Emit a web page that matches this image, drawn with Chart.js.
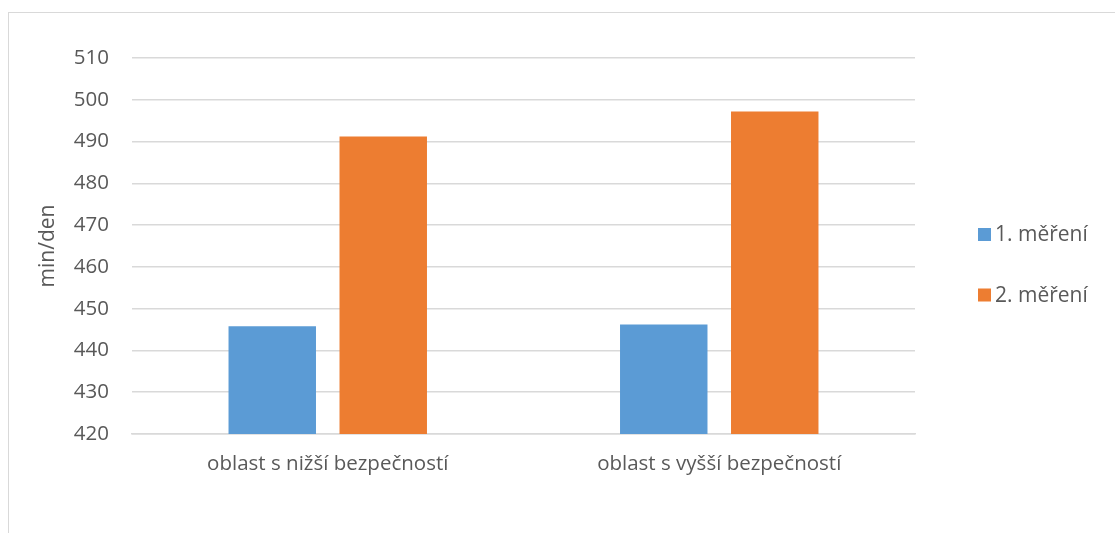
<!DOCTYPE html>
<html lang="cs">
<head>
<meta charset="utf-8">
<title>Čas strávený za den</title>
<script src="https://cdn.jsdelivr.net/npm/chart.js@4.4.1/dist/chart.umd.min.js"></script>
<style>
  html, body { margin: 0; padding: 0; background: #ffffff; }
  #wrap { position: relative; width: 1115px; height: 533px; overflow: hidden; }
  #frame { position: absolute; left: 8px; top: 12px; width: 1200px; height: 600px;
           border: 1.5px solid #d9d9d9; box-sizing: border-box; pointer-events: none; }
  canvas { position: absolute; left: 0; top: 0; }
</style>
</head>
<body>
<div id="wrap">
  <div id="frame"></div>
  <canvas id="chart" width="1115" height="533"></canvas>
</div>
<script>
// Categories, series and axis range
const categories = ['oblast s nižší bezpečností', 'oblast s vyšší bezpečností'];
const seriesNames = ['1. měření', '2. měření'];
const mereni1 = [445.8, 446.2];
const mereni2 = [491.2, 497.2];
const yMin = 420;
const yMax = 510;
const yStep = 10;
const yTitle = 'min/den';

const TEXT = '#595959';
const GRID = '#d9d9d9';
const FONT = "'Open Sans', 'DejaVu Sans', sans-serif";

// Legend drawn on the right, one row per dataset
const sideLegend = {
  id: 'sideLegend',
  afterDraw(chart) {
    const ctx = chart.ctx;
    const rows = [234.5, 295];
    ctx.save();
    ctx.font = '21px ' + FONT;
    ctx.textBaseline = 'middle';
    ctx.textAlign = 'left';
    chart.data.datasets.forEach((ds, i) => {
      const y = rows[i];
      ctx.fillStyle = ds.backgroundColor;
      ctx.fillRect(978, y - 6.5, 13, 13);
      ctx.fillStyle = TEXT;
      ctx.fillText(ds.label, 995, y + 1);
    });
    ctx.restore();
  }
};

new Chart(document.getElementById('chart'), {
  type: 'bar',
  data: {
    labels: categories,
    datasets: [
      { label: seriesNames[0], data: mereni1, backgroundColor: '#5B9BD5' },
      { label: seriesNames[1], data: mereni2, backgroundColor: '#ED7D31' }
    ]
  },
  options: {
    responsive: false,
    animation: false,
    devicePixelRatio: 1,
    layout: { padding: { top: 58, right: 200, bottom: 0, left: 0 } },
    datasets: { bar: { categoryPercentage: 0.567, barPercentage: 0.788 } },
    plugins: { legend: { display: false }, tooltip: { enabled: false } },
    scales: {
      x: {
        grid: { display: false, drawTicks: false },
        border: { display: true, color: GRID, width: 1.5 },
        ticks: { color: TEXT, font: { family: FONT, size: 20.5 }, padding: 18, maxRotation: 0 },
        afterFit(scale) { scale.height = 99; }
      },
      y: {
        min: yMin,
        max: yMax,
        ticks: { stepSize: yStep, color: TEXT, font: { family: FONT, size: 20.5 }, padding: 23 },
        grid: { color: GRID, lineWidth: 1.5, drawTicks: false },
        border: { display: false },
        title: { display: true, text: yTitle, color: TEXT, font: { family: FONT, size: 21 },
                 padding: { top: 35, bottom: 0 } },
        afterFit(scale) { scale.width = 132; }
      }
    }
  },
  plugins: [sideLegend]
});
</script>
</body>
</html>
